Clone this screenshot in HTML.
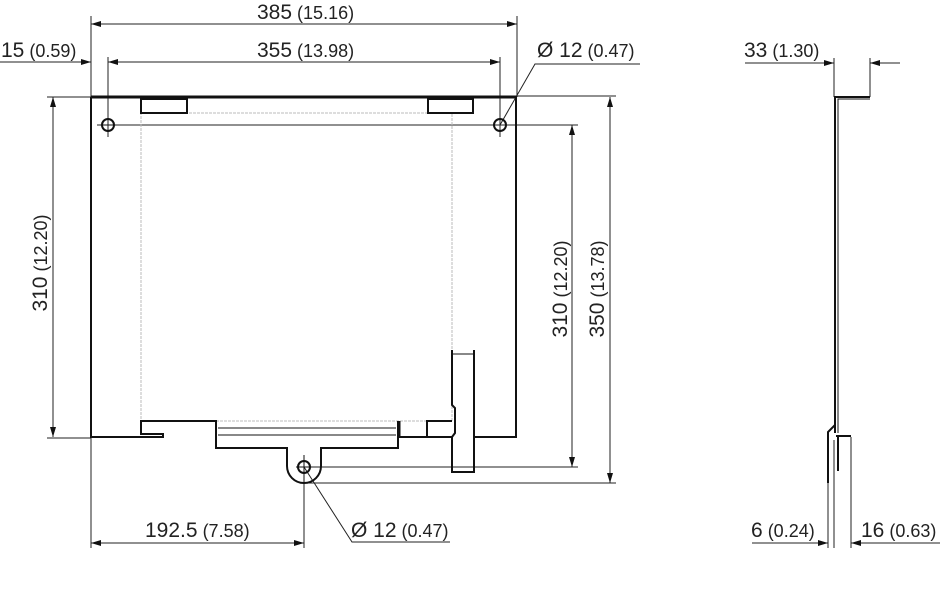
<!DOCTYPE html>
<html><head><meta charset="utf-8"><style>
html,body{margin:0;padding:0;background:#fff;width:940px;height:597px;overflow:hidden}
svg{display:block}
text{font-family:"Liberation Sans",sans-serif;fill:#222}
.b{font-size:21px}.s{font-size:18px}
</style></head><body>
<svg width="940" height="597" viewBox="0 0 940 597" xmlns="http://www.w3.org/2000/svg">
<defs>
<marker id="a" viewBox="0 0 10 6" refX="10" refY="3" markerWidth="10" markerHeight="6" orient="auto-start-reverse" markerUnits="userSpaceOnUse"><path d="M0,0L10,3L0,6z" fill="#111"/></marker>
</defs>
<g stroke="#222" stroke-width="1" fill="none">
<line x1="91" y1="24" x2="517" y2="24" marker-start="url(#a)" marker-end="url(#a)"/>
<line x1="91" y1="16" x2="91" y2="97"/><line x1="517" y1="16" x2="517" y2="97"/>
<line x1="108" y1="62" x2="500" y2="62" marker-start="url(#a)" marker-end="url(#a)"/>
<line x1="0" y1="62" x2="91" y2="62" marker-end="url(#a)"/>
<line x1="108" y1="57" x2="108" y2="137"/>
<line x1="500" y1="57" x2="500" y2="137"/>
<line x1="97" y1="125" x2="578" y2="125"/>
<line x1="53" y1="97" x2="53" y2="437" marker-start="url(#a)" marker-end="url(#a)"/>
<line x1="47" y1="97" x2="91" y2="97"/><line x1="47" y1="438" x2="91" y2="438"/>
<line x1="572" y1="125" x2="572" y2="467" marker-start="url(#a)" marker-end="url(#a)"/>
<line x1="610" y1="97" x2="610" y2="483" marker-start="url(#a)" marker-end="url(#a)"/>
<line x1="517" y1="96" x2="616" y2="96"/>
<line x1="305" y1="467" x2="578" y2="467"/><line x1="305" y1="483" x2="616" y2="483"/>
<line x1="91" y1="543" x2="304" y2="543" marker-start="url(#a)" marker-end="url(#a)"/>
<line x1="91" y1="437" x2="91" y2="548"/><line x1="304" y1="455" x2="304" y2="548"/>
<polyline points="500,125 535,64 640,64"/>
<polyline points="304,467 352,542 450,542"/>
<line x1="745" y1="63" x2="834" y2="63" marker-end="url(#a)"/>
<line x1="900" y1="63" x2="870" y2="63" marker-end="url(#a)"/>
<line x1="834" y1="58" x2="834" y2="97"/><line x1="870" y1="58" x2="870" y2="97"/>
<line x1="752" y1="543" x2="828" y2="543" marker-end="url(#a)"/>
<line x1="940" y1="543" x2="851" y2="543" marker-end="url(#a)"/>
<line x1="828" y1="483" x2="828" y2="548"/><line x1="834" y1="440" x2="834" y2="548"/><line x1="851" y1="437" x2="851" y2="548"/>
</g>
<rect x="141" y="113" width="311" height="308" fill="none" stroke="#bbb" stroke-width="1" stroke-dasharray="3,1"/>
<g stroke="#111" stroke-width="2" fill="none">
<line x1="91" y1="97" x2="517" y2="97" stroke-width="3"/>
<line x1="91" y1="97" x2="91" y2="438"/>
<line x1="516" y1="97" x2="516" y2="438"/>
<polyline points="91,437 163,437 163,434 141,434 141,421 216,421 216,448 287,448 287,466"/>
<path d="M287,466 A17,17 0 0 0 321,466"/>
<polyline points="321,466 321,448 398,448 398,421"/>
<line x1="399" y1="421" x2="399" y2="438" stroke-width="3"/>
<line x1="399" y1="437" x2="452" y2="437"/>
<polyline points="427,437 427,421 452,421"/>
<line x1="474" y1="437" x2="516" y2="437"/>
<polyline points="452,350 452,405 455,408 455,433 452,437 452,472 474,472 474,350"/>
<line x1="452" y1="354" x2="474" y2="354" stroke-width="1"/>
<rect x="141" y="99" width="46" height="14"/>
<rect x="428" y="99" width="45" height="14"/>
<circle cx="108" cy="125" r="6"/>
<circle cx="500" cy="125" r="6"/>
<circle cx="304" cy="467" r="6"/>
<polyline points="870,97 835,97 835,433"/>
<polyline points="870,99 838,99 838,433" stroke-width="1"/>
<polyline points="835,425 828,432 828,483"/>
<polyline points="836,436 851,436"/>
<polyline points="838,436 838,471"/>
</g>
<g stroke="#111" stroke-width="1" fill="none">
<line x1="218" y1="428" x2="396" y2="428"/><line x1="218" y1="435" x2="396" y2="435"/>
<line x1="304" y1="455" x2="304" y2="483"/><line x1="296" y1="467" x2="312" y2="467"/>
<line x1="100" y1="125" x2="116" y2="125"/>
</g>
<text x="257" y="19"><tspan class="b">385</tspan><tspan class="s"> (15.16)</tspan></text>
<text x="257" y="57"><tspan class="b">355</tspan><tspan class="s"> (13.98)</tspan></text>
<text x="1" y="57"><tspan class="b">15</tspan><tspan class="s"> (0.59)</tspan></text>
<text x="537" y="57"><tspan class="b">Ø 12</tspan><tspan class="s"> (0.47)</tspan></text>
<text x="145" y="537"><tspan class="b">192.5</tspan><tspan class="s"> (7.58)</tspan></text>
<text x="351" y="537"><tspan class="b">Ø 12</tspan><tspan class="s"> (0.47)</tspan></text>
<text x="744" y="57"><tspan class="b">33</tspan><tspan class="s"> (1.30)</tspan></text>
<text x="751" y="537"><tspan class="b">6</tspan><tspan class="s"> (0.24)</tspan></text>
<text x="861" y="537"><tspan class="b">16</tspan><tspan class="s"> (0.63)</tspan></text>
<text transform="translate(47,263) rotate(-90)" text-anchor="middle"><tspan class="b">310</tspan><tspan class="s"> (12.20)</tspan></text>
<text transform="translate(567,289) rotate(-90)" text-anchor="middle"><tspan class="b">310</tspan><tspan class="s"> (12.20)</tspan></text>
<text transform="translate(604,289) rotate(-90)" text-anchor="middle"><tspan class="b">350</tspan><tspan class="s"> (13.78)</tspan></text>
</svg>
</body></html>
